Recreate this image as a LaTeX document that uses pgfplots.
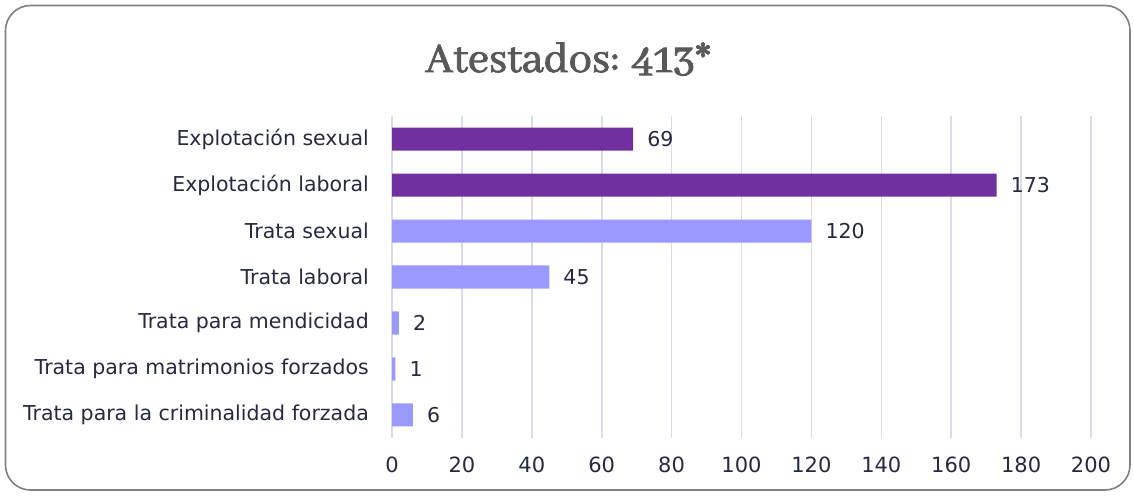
\documentclass[border=0pt]{standalone}
\usepackage{fontspec}
\setmainfont{DejaVu Sans}
\newfontfamily\titlefont{Abhaya Libre}[Numbers=Lining, FakeBold=2]
\usepackage{pgfplots}
\pgfplotsset{compat=1.18}
\definecolor{darkpurple}{HTML}{7030A0}
\definecolor{lightpurple}{HTML}{9999FF}
\definecolor{gridc}{HTML}{D9DAEC}
\definecolor{txt}{HTML}{262A40}
\definecolor{framec}{HTML}{808080}
\definecolor{titlec}{HTML}{595959}
\begin{document}
\begin{tikzpicture}[x=1pt,y=1pt]
\useasboundingbox (0,0) rectangle (1134,495);
\draw[framec, line width=1.6pt, rounded corners=25pt] (5.5,5) rectangle (1130,489.5);
\node[anchor=base, text=titlec, font=\titlefont\fontsize{46.5}{50}\selectfont] at (568,423) {Atestados: 413*};
\begin{axis}[
  at={(392pt,57pt)}, anchor=south west,
  scale only axis, width=699pt, height=322pt,
  xbar, bar width=23pt, bar shift=0pt,
  xmin=0, xmax=200, ymin=-0.5, ymax=6.5,
  xtick={0,20,...,200}, ytick={0,...,6},
  yticklabels={Trata para la criminalidad forzada, Trata para matrimonios forzados, Trata para mendicidad, Trata laboral, Trata sexual, Explotación laboral, Explotación sexual},
  axis line style={draw=none},
  major tick length=0pt,
  xmajorgrids, ymajorgrids=false,
  grid style={gridc, line width=1.6pt},
  tick label style={font=\fontsize{20.5}{24}\selectfont, text=txt},
  /pgf/number format/assume math mode=true,
  yticklabel style={anchor=east, inner sep=0pt, xshift=-23pt},
  xticklabel style={anchor=north, inner sep=0pt, yshift=-19pt, font=\fontsize{21}{24}\selectfont},
  point meta=x,
  nodes near coords,
  nodes near coords style={anchor=west, inner sep=0pt, xshift=14pt, text=txt, font=\fontsize{20.5}{24}\selectfont},
  clip=false,
]
\addplot[fill=darkpurple, draw=none] coordinates {(69,6) (173,5)};
\addplot[fill=lightpurple, draw=none] coordinates {(120,4) (45,3) (2,2) (1,1) (6,0)};
\end{axis}
\end{tikzpicture}
\end{document}
